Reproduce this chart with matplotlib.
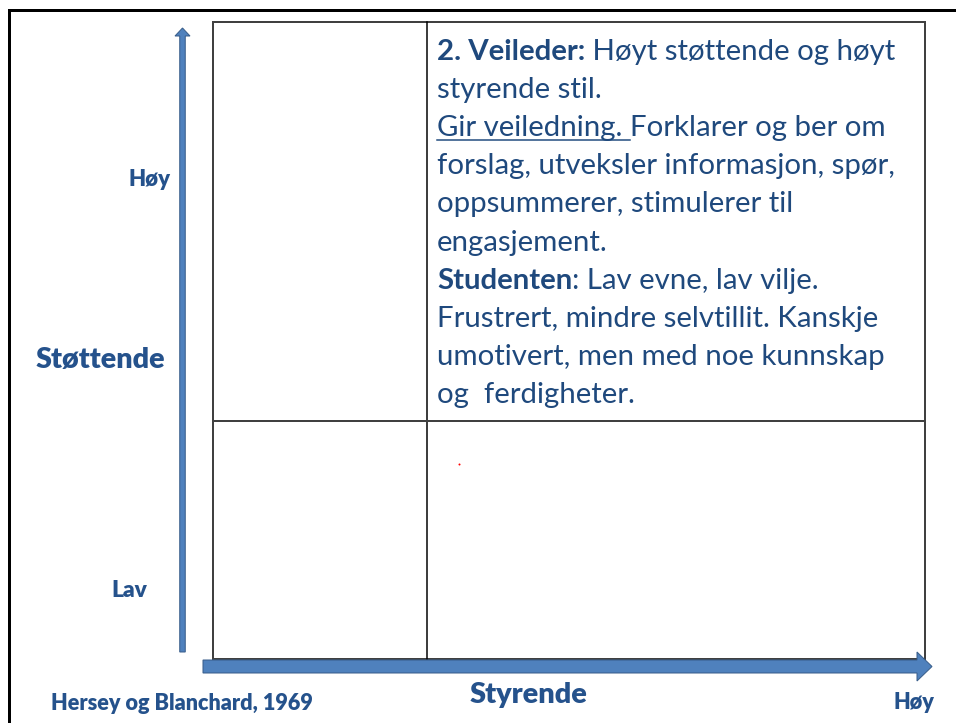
import matplotlib
matplotlib.use("Agg")
import matplotlib.pyplot as plt
from matplotlib.patches import FancyArrow, Rectangle
from matplotlib.lines import Line2D

# ---------------- content ----------------
y_axis_label = "Støttende"
x_axis_label = "Styrende"
y_level_high = "Høy"
y_level_low = "Lav"
x_level_high = "Høy"
source_label = "Hersey og Blanchard, 1969"

# quadrant text (upper-right quadrant), each line is a list of (text, style)
box_lines = [
    [("2. Veileder:", "bold"), (" Høyt støttende og høyt", "normal")],
    [("styrende stil.", "normal")],
    [("Gir veiledning. ", "underline"), ("Forklarer og ber om", "normal")],
    [("forslag, utveksler informasjon, spør,", "normal")],
    [("oppsummerer, stimulerer til", "normal")],
    [("engasjement.", "normal")],
    [("Studenten", "bold"), (": Lav evne, lav vilje.", "normal")],
    [("Frustrert, mindre selvtillit. Kanskje", "normal")],
    [("umotivert, men med noe kunnskap", "normal")],
    [("og  ferdigheter.", "normal")],
]

# ---------------- styling ----------------
W, H = 956, 723
FONT = "Lato"
BOX_COLOR = "#1F497D"
LABEL_COLOR = "#25528C"
GRID_COLOR = "#404040"
ARROW_FC = "#4F81BD"
ARROW_EC = "#385D8A"
PX = 72.0 / 100.0  # points per pixel

fig = plt.figure(figsize=(W / 100, H / 100), dpi=100)
ax = fig.add_axes([0, 0, 1, 1])
ax.set_xlim(0, W)
ax.set_ylim(H, 0)
ax.axis("off")
renderer = fig.canvas.get_renderer()


def text_width(s, size, weight):
    t1 = ax.text(0, 0, s + "|", fontsize=size, fontweight=weight, family=FONT)
    t2 = ax.text(0, 0, "|", fontsize=size, fontweight=weight, family=FONT)
    w = t1.get_window_extent(renderer).width - t2.get_window_extent(renderer).width
    t1.remove()
    t2.remove()
    return w


def fit_size(s, weight, target_px, base=20.0):
    return base * target_px / text_width(s, base, weight)


# outer slide border (left and top)
ax.add_line(Line2D([9.5, 9.5], [H + 5, 9.5], color="black", lw=3 * PX,
                   solid_capstyle="projecting"))
ax.add_line(Line2D([9.5, W + 5], [9.5, 9.5], color="black", lw=3 * PX,
                   solid_capstyle="projecting"))

# 2x2 grid
gx0, gx1, gxm = 213, 925, 427
gy0, gy1, gym = 22, 659, 421
ax.add_patch(Rectangle((gx0, gy0), gx1 - gx0, gy1 - gy0, fill=False,
                       ec=GRID_COLOR, lw=2 * PX))
ax.add_line(Line2D([gxm, gxm], [gy0, gy1], color="black", lw=1.5 * PX))
ax.add_line(Line2D([gx0, gx1], [gym, gym], color=GRID_COLOR, lw=2 * PX))

# arrows
ax.add_patch(FancyArrow(182.5, 652, 0, 28 - 652, width=5.5, head_width=15,
                        head_length=8, length_includes_head=True,
                        fc=ARROW_FC, ec=ARROW_EC, lw=1 * PX, zorder=3))
ax.add_patch(FancyArrow(203, 666.5, 932 - 203, 0, width=13, head_width=29,
                        head_length=15, length_includes_head=True,
                        fc=ARROW_FC, ec=ARROW_EC, lw=1 * PX, zorder=3))

# small red dot
ax.plot([459], [464], marker="o", ms=2 * PX, color="red", mec="none")

# axis labels
def label(s, x0, x1, baseline, weight="heavy"):
    size = fit_size(s, weight, x1 - x0)
    ax.text((x0 + x1) / 2, baseline, s, fontsize=size, fontweight=weight,
            family=FONT, color=LABEL_COLOR, ha="center", va="baseline")


label(y_level_high, 129, 171, 186)
label(y_axis_label, 35, 165, 368)
label(y_level_low, 111, 147, 597)
label(x_axis_label, 470, 588, 703)
label(source_label, 50, 313, 710)
label(x_level_high, 893, 934, 709)

# quadrant text
body_size = fit_size("Frustrert, mindre selvtillit. Kanskje", "normal", 443)
x_left = 437
baseline0 = 60
line_step = 38.1
for i, segs in enumerate(box_lines):
    y = baseline0 + i * line_step
    x = x_left
    for s, style in segs:
        weight = "bold" if style == "bold" else "normal"
        ax.text(x, y, s, fontsize=body_size, fontweight=weight, family=FONT,
                color=BOX_COLOR, ha="left", va="baseline")
        w = text_width(s, body_size, weight)
        if style == "underline":
            ax.add_line(Line2D([x, x + w], [y + 4, y + 4], color=BOX_COLOR,
                               lw=1.5 * PX))
        x += w

fig.savefig("out.png", dpi=100)
